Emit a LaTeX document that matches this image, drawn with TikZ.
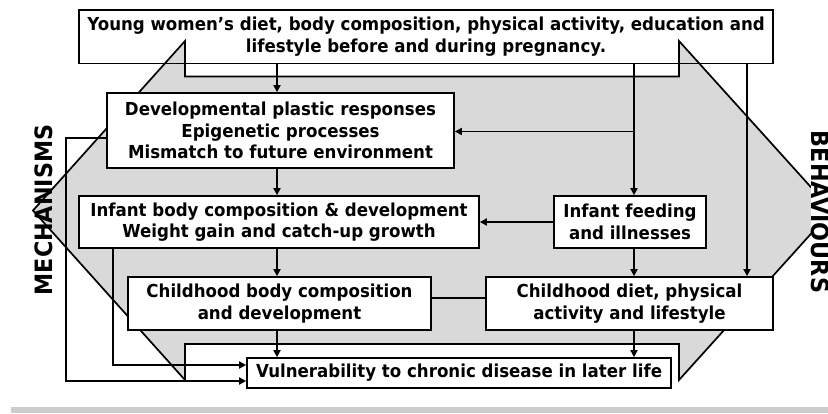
\documentclass[tikz,border=0pt]{standalone}
\usepackage{fontspec}
\setmainfont{DejaVu Sans}[FakeStretch=0.93]
\usetikzlibrary{arrows.meta}
\begin{document}
\begin{tikzpicture}[x=1bp,y=-1bp,
  txt/.style={align=center, font=\bfseries\fontsize{17.95}{21.8}\selectfont},
  box/.style={txt, draw=black, line width=1.7bp, fill=white, inner sep=0pt},
  conn/.style={line width=1.7bp},
  arr/.style={conn, -{Triangle[length=7bp,width=7bp]}},
  side/.style={inner sep=0pt, font=\bfseries\fontsize{24}{24}\selectfont},
]
\clip (0,0) rectangle (828,413);
% gray notched hexagon
\filldraw[fill=black!15, draw=black, line width=1.7bp, line join=miter]
  (185,41) -- (185,76.5) -- (679,76.5) -- (679,41) -- (832,210.5) -- (679,380)
  -- (679,344) -- (185,344) -- (185,380) -- (33,210.5) -- cycle;
% top box (no fill)
\node[txt, draw=black, line width=1.7bp, inner sep=0pt, minimum width=694bp, minimum height=53.5bp] (top) at (426,36.75)
  {Young women’s diet, body composition, physical activity, education and\\lifestyle before and during pregnancy.};
% helper coordinates
\coordinate (xL) at (277,0);
\coordinate (xF) at (634,0);
\coordinate (xR) at (747,0);
\coordinate (xA) at (66,0);
\coordinate (xB) at (113,0);
\coordinate (yB) at (0,131.5);
\coordinate (yC) at (0,298);
\coordinate (y1) at (0,138);
\coordinate (y2) at (0,365);
\coordinate (y3) at (0,381);
% boxes
\node[box, minimum width=347bp, minimum height=75bp] (dev) at (280.5,130.5)
  {Developmental plastic responses\\Epigenetic processes\\Mismatch to future environment};
\node[box, minimum width=400bp, minimum height=52bp] (infbody) at (279,222)
  {Infant body composition \& development\\Weight gain and catch-up growth};
\node[box, minimum width=152bp, minimum height=52bp] (infeed) at (630,222)
  {Infant feeding\\and illnesses};
\node[box, minimum width=303bp, minimum height=53bp] (chbody) at (279.5,303.5)
  {Childhood body composition\\and development};
\node[box, minimum width=287bp, minimum height=53bp] (chdiet) at (629.5,303.5)
  {Childhood diet, physical\\activity and lifestyle};
\node[box, minimum width=424bp, minimum height=30bp] (vuln) at (459,373)
  {Vulnerability to chronic disease in later life};
\coordinate (jB) at (xF |- yB);
% connectors
\draw[arr] (top.south -| xL) -- (dev.north -| xL);
\draw[arr] (dev.south -| xL) -- (infbody.north -| xL);
\draw[arr] (infbody.south -| xL) -- (chbody.north -| xL);
\draw[arr] (chbody.south -| xL) -- (vuln.north -| xL);
\draw[arr] (top.south -| xF) -- (infeed.north -| xF);
\draw[arr] (jB) -- (dev.east |- yB);
\draw[arr] (top.south -| xR) -- (chdiet.north -| xR);
\draw[arr] (infeed.west) -- (infbody.east);
\draw[arr] (infeed.south -| xF) -- (chdiet.north -| xF);
\draw[arr] (chdiet.south -| xF) -- (vuln.north -| xF);
\draw[conn] (chdiet.west |- yC) -- (chbody.east |- yC);
\draw[arr] (dev.west |- y1) -- (xA |- y1) -- (xA |- y3) -- (vuln.west |- y3);
\draw[arr] (infbody.south -| xB) -- (xB |- y2) -- (vuln.west |- y2);
% side labels
\node[side, rotate=90] (mech) at (44,210) {MECHANISMS};
\node[side, rotate=-90, fill=white] (beh) at (820,212) {BEHAVIOURS};
% bottom band
\fill[black!20] (11,407) rectangle (828,413);
\end{tikzpicture}
\end{document}
